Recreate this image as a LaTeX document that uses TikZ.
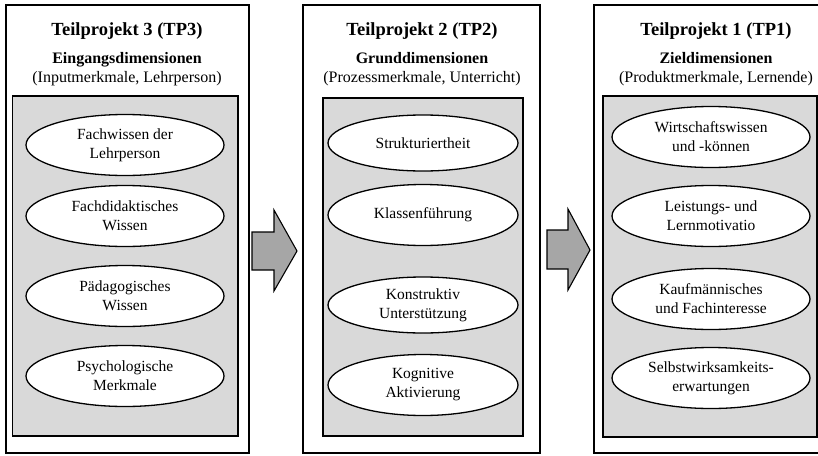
\documentclass[tikz,border=0pt]{standalone}
\usepackage{fontspec}
\setmainfont{Liberation Serif}
\usetikzlibrary{shapes.geometric}
\definecolor{innergray}{HTML}{D9D9D9}
\definecolor{arrowgray}{HTML}{A6A6A6}
\begin{document}
\begin{tikzpicture}[x=1pt,y=-1pt,
  outerbox/.style={draw=black,line width=1.1pt,fill=white},
  innerbox/.style={draw=black,line width=1.6pt,fill=innergray},
  dim/.style={ellipse,draw=black,line width=1.3pt,fill=white,inner sep=0pt,
    minimum width=198pt,minimum height=61pt,align=center,
    font=\fontsize{15.5}{19}\selectfont},
  title/.style={anchor=base,font=\fontsize{18.5}{22}\selectfont\bfseries},
  subtitle/.style={anchor=base,font=\fontsize{16}{19}\selectfont\bfseries},
  paren/.style={anchor=base,font=\fontsize{16}{19}\selectfont},
  blockarrow/.style={draw=black,line width=1.1pt,fill=arrowgray,line join=miter}]
\useasboundingbox (0,0) rectangle (818,455);
\clip (0,0) rectangle (818,455);
% panels
\draw[outerbox] (6,5) rectangle (249,453);
\draw[innerbox] (12.5,96) rectangle (238,436);
\draw[outerbox] (303,5) rectangle (540,453);
\draw[innerbox] (323,98) rectangle (523,436);
\draw[outerbox] (594,5) rectangle (830,453);
\draw[innerbox] (603,96) rectangle (817,437);
% panel 1
\node[title] (t3) at (127,35) {Teilprojekt 3 (TP3)};
\node[subtitle] (s3) at (127,63) {Eingangsdimensionen};
\node[paren] (p3) at (127,82) {(Inputmerkmale, Lehrperson)};
\node[dim] (a1) at (125,145) {Fachwissen der\\Lehrperson};
\node[dim] (a2) at (125,216) {Fachdidaktisches\\Wissen};
\node[dim] (a3) at (125,296) {Pädagogisches\\Wissen};
\node[dim] (a4) at (125,376) {Psychologische\\Merkmale};
% panel 2
\node[title] (t2) at (422,35) {Teilprojekt 2 (TP2)};
\node[subtitle] (s2) at (422,63) {Grunddimensionen};
\node[paren] (p2) at (422,82) {(Prozessmerkmale, Unterricht)};
\node[dim,minimum width=190pt,minimum height=56pt] (b1) at (423,143) {Strukturiertheit};
\node[dim,minimum width=190pt] (b2) at (423,215) {Klassenführung};
\node[dim,minimum width=190pt,minimum height=56pt] (b3) at (423,305) {Konstruktiv\\Unterstützung};
\node[dim,minimum width=190pt] (b4) at (423,385) {Kognitive\\Aktivierung};
% panel 3
\node[title] (t1) at (716,35) {Teilprojekt 1 (TP1)};
\node[subtitle] (s1) at (716,63) {Zieldimensionen};
\node[paren] (p1) at (716,82) {(Produktmerkmale, Lernende)};
\node[dim] (c1) at (711,137) {Wirtschaftswissen\\und -können};
\node[dim] (c2) at (711,216) {Leistungs- und\\Lernmotivatio};
\node[dim] (c3) at (711,299) {Kaufmännisches\\und Fachinteresse};
\node[dim] (c4) at (711,378) {Selbstwirksamkeits-\\erwartungen};
% block arrows
\draw[blockarrow] (252,232) -- (274,232) -- (274,210) -- (297,251) -- (274,291) -- (274,270) -- (252,270) -- cycle;
\draw[blockarrow] (547,230) -- (568,230) -- (568,209) -- (590,250) -- (568,290) -- (568,269) -- (547,269) -- cycle;
\end{tikzpicture}
\end{document}
